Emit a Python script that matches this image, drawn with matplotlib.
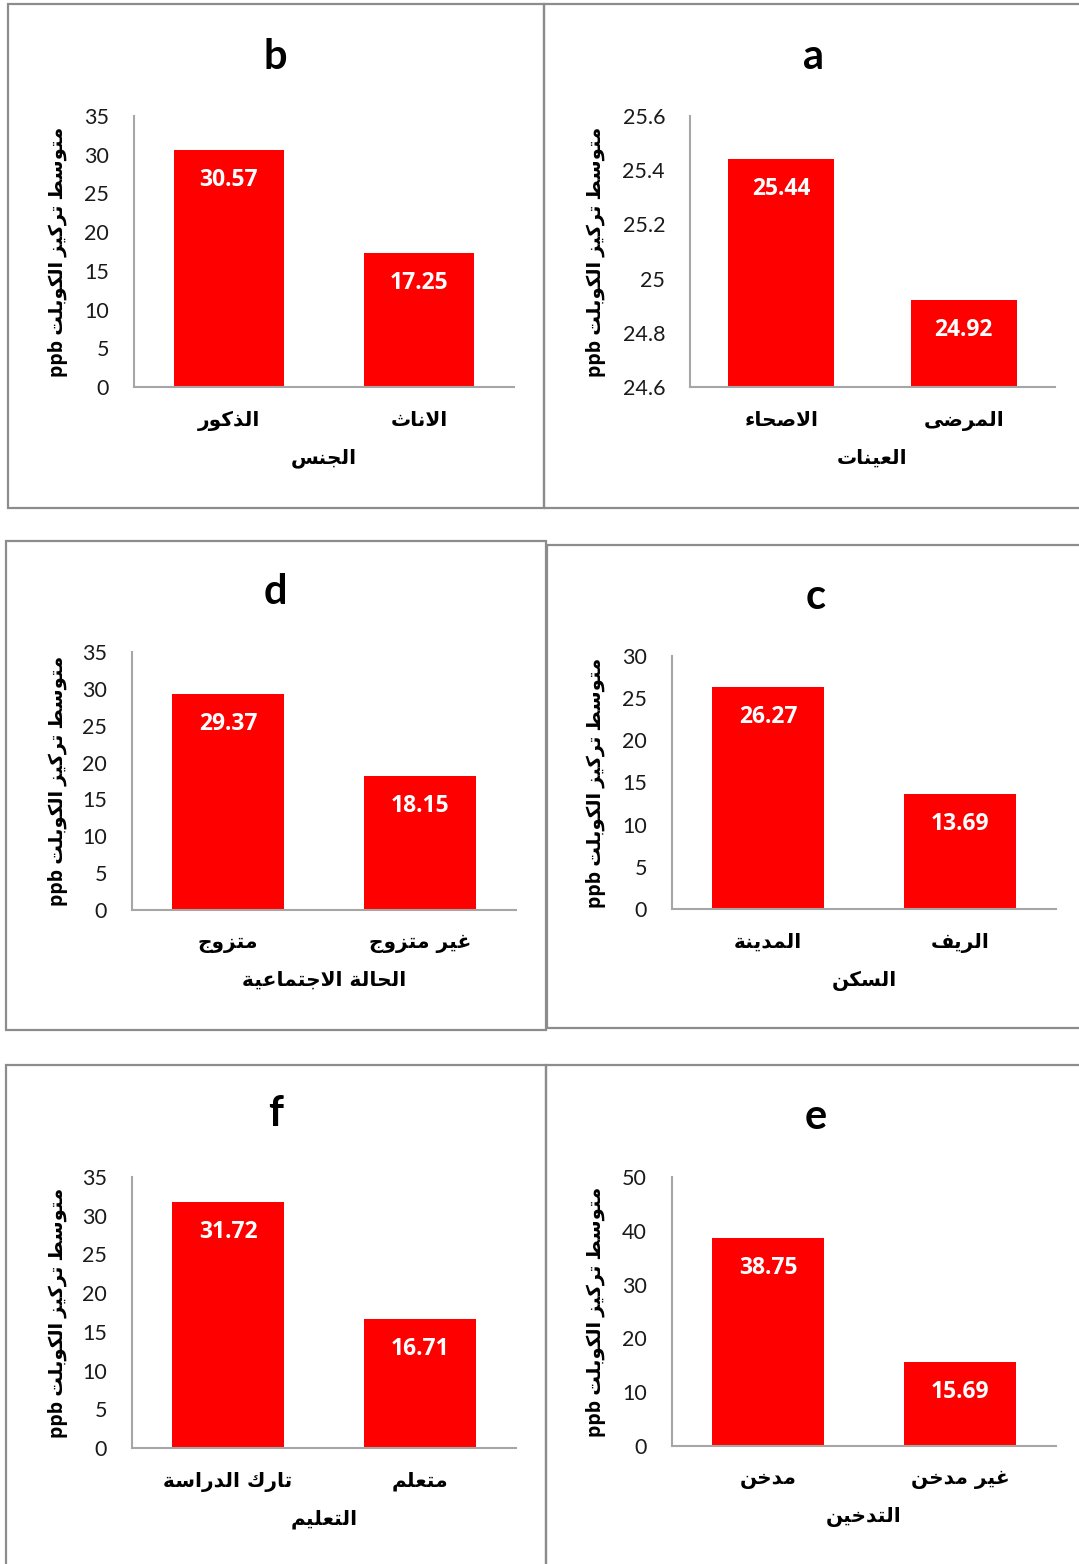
import matplotlib
matplotlib.use("Agg")
import matplotlib.pyplot as plt
from matplotlib.patches import Rectangle

W, H, DPI = 1079, 1564, 100

# ---------------- data ----------------
cats_a = ["الاصحاء", "المرضى"]
vals_a = [25.44, 24.92]
ticks_a = [24.6, 24.8, 25.0, 25.2, 25.4, 25.6]
xlab_a = "العينات"

cats_b = ["الذكور", "الاناث"]
vals_b = [30.57, 17.25]
ticks_b = [0, 5, 10, 15, 20, 25, 30, 35]
xlab_b = "الجنس"

cats_c = ["المدينة", "الريف"]
vals_c = [26.27, 13.69]
ticks_c = [0, 5, 10, 15, 20, 25, 30]
xlab_c = "السكن"

cats_d = ["متزوج", "غير متزوج"]
vals_d = [29.37, 18.15]
ticks_d = [0, 5, 10, 15, 20, 25, 30, 35]
xlab_d = "الحالة الاجتماعية"

cats_e = ["مدخن", "غير مدخن"]
vals_e = [38.75, 15.69]
ticks_e = [0, 10, 20, 30, 40, 50]
xlab_e = "التدخين"

cats_f = ["تارك الدراسة", "متعلم"]
vals_f = [31.72, 16.71]
ticks_f = [0, 5, 10, 15, 20, 25, 30, 35]
xlab_f = "التعليم"

ylabel_ar = "متوسط تركيز الكوبلت"
ylabel_unit = "ppb"

# ---------------- Arabic shaping (contextual forms + RTL order) ----------------
FORMS4 = {'ئ': 0xFE89, 'ب': 0xFE8F, 'ت': 0xFE95, 'ث': 0xFE99, 'ج': 0xFE9D,
          'ح': 0xFEA1, 'خ': 0xFEA5, 'س': 0xFEB1, 'ش': 0xFEB5, 'ص': 0xFEB9,
          'ض': 0xFEBD, 'ط': 0xFEC1, 'ظ': 0xFEC5, 'ع': 0xFEC9, 'غ': 0xFECD,
          'ف': 0xFED1, 'ق': 0xFED5, 'ك': 0xFED9, 'ل': 0xFEDD, 'م': 0xFEE1,
          'ن': 0xFEE5, 'ه': 0xFEE9, 'ي': 0xFEF1}
FORMS2 = {'آ': 0xFE81, 'أ': 0xFE83, 'ؤ': 0xFE85, 'إ': 0xFE87, 'ا': 0xFE8D,
          'ة': 0xFE93, 'د': 0xFEA9, 'ذ': 0xFEAB, 'ر': 0xFEAD, 'ز': 0xFEAF,
          'و': 0xFEED, 'ى': 0xFEEF}
LAM_ALEF = {'ا': 0xFEFB, 'آ': 0xFEF5, 'أ': 0xFEF7, 'إ': 0xFEF9}


def shape_ar(text):
    tokens = []
    i = 0
    while i < len(text):
        c = text[i]
        if c == 'ل' and i + 1 < len(text) and text[i + 1] in LAM_ALEF:
            tokens.append(('LA', text[i + 1]))
            i += 2
        else:
            tokens.append(('C', c))
            i += 1

    def joins_next(tok):
        return tok[0] == 'C' and tok[1] in FORMS4

    def joins_prev(tok):
        return tok[0] == 'LA' or tok[1] in FORMS4 or tok[1] in FORMS2

    out = []
    n = len(tokens)
    for k, tok in enumerate(tokens):
        kind, c = tok
        pj = k > 0 and joins_next(tokens[k - 1]) and joins_prev(tok)
        nj = k + 1 < n and joins_next(tok) and joins_prev(tokens[k + 1])
        if kind == 'LA':
            out.append(chr(LAM_ALEF[c] + (1 if pj else 0)))
        elif c in FORMS4:
            off = 3 if (pj and nj) else 1 if pj else 2 if nj else 0
            out.append(chr(FORMS4[c] + off))
        elif c in FORMS2:
            out.append(chr(FORMS2[c] + (1 if pj else 0)))
        else:
            out.append(c)
    return "".join(reversed(out))


# ---------------- figure ----------------
fig = plt.figure(figsize=(W / DPI, H / DPI), dpi=DPI)
fig.patch.set_facecolor("white")

NUM_FONT = ["Lato", "DejaVu Sans"]
LBL_FONT = ["Open Sans", "DejaVu Sans"]
AR_FONT = ["DejaVu Sans"]
AXIS_GREY = "#a6a6a6"
FRAME_GREY = "#8c8c8c"
RED = "#ff0000"


def fx(x):
    return x / W


def fy(y):
    return 1 - y / H


# chart-area frames (left, top, right, bottom in pixels)
frames = [(8, 4, 544, 508), (544, 4, 1090, 508),
          (6, 541, 546, 1030), (547, 545, 1090, 1028),
          (6, 1065, 546, 1575), (546, 1065, 1090, 1575)]
for l, t, r, b in frames:
    fig.patches.append(Rectangle((fx(l), fy(b)), fx(r - l), (b - t) / H,
                                 transform=fig.transFigure, fill=False,
                                 edgecolor=FRAME_GREY, linewidth=1.6))

panels = [
    # title, cats, vals, ticks, xlabel, axes box (l, t, r, b), title xy, ylabel offset
    ("b", cats_b, vals_b, ticks_b, xlab_b, (134, 116, 514, 387), (275, 57), 76),
    ("a", cats_a, vals_a, ticks_a, xlab_a, (690, 116, 1055, 387), (814, 57), 94),
    ("d", cats_d, vals_d, ticks_d, xlab_d, (132, 652, 516, 910), (275, 592), 74),
    ("c", cats_c, vals_c, ticks_c, xlab_c, (672, 656, 1056, 909), (816, 597), 76),
    ("f", cats_f, vals_f, ticks_f, xlab_f, (132, 1177, 516, 1448), (276, 1114), 74),
    ("e", cats_e, vals_e, ticks_e, xlab_e, (672, 1177, 1056, 1446), (816, 1117), 76),
]

for title, cats, vals, ticks, xlab, box, txy, yoff in panels:
    l, t, r, b = box
    ax = fig.add_axes([fx(l), fy(b), fx(r - l), (b - t) / H])
    xs = list(range(len(cats)))
    ax.bar(xs, vals, width=0.58, color=RED, zorder=2)
    ax.set_xlim(-0.5, len(cats) - 0.5)
    ax.set_ylim(ticks[0], ticks[-1])

    for s in ("top", "right"):
        ax.spines[s].set_visible(False)
    for s in ("left", "bottom"):
        ax.spines[s].set_color(AXIS_GREY)
        ax.spines[s].set_linewidth(1.5)
        ax.spines[s].set_zorder(3)

    ax.set_yticks(ticks)
    ax.set_yticklabels([f"{v:g}" for v in ticks], family=NUM_FONT,
                       fontsize=15.5, color="#1a1a1a")
    ax.set_xticks(xs)
    ax.set_xticklabels([shape_ar(c) for c in cats], family=AR_FONT,
                       fontsize=14.5, fontweight="bold", color="black")
    ax.tick_params(axis="y", length=0, pad=18)
    ax.tick_params(axis="x", length=0, pad=17)

    ax.set_xlabel(shape_ar(xlab), family=AR_FONT, fontsize=14.5,
                  fontweight="bold", labelpad=13)
    ax.set_ylabel(ylabel_unit + " " + shape_ar(ylabel_ar),
                  family=["Open Sans", "DejaVu Sans"], fontsize=14,
                  fontweight="bold")
    ax.yaxis.set_label_coords(-yoff / (r - l), 0.5)
    ax.yaxis.label.set_verticalalignment("center")

    for x, v in zip(xs, vals):
        ax.annotate(f"{v:.2f}", xy=(x, v), xytext=(0, -30),
                    textcoords="offset pixels", ha="center", va="center",
                    color="white", fontsize=16.5, fontweight="bold",
                    family=LBL_FONT, zorder=4)

    fig.text(fx(txy[0]), fy(txy[1]), title, ha="center", va="center",
             fontsize=30, fontweight="bold", family=NUM_FONT)

fig.savefig("out.png", dpi=DPI, facecolor="white")
